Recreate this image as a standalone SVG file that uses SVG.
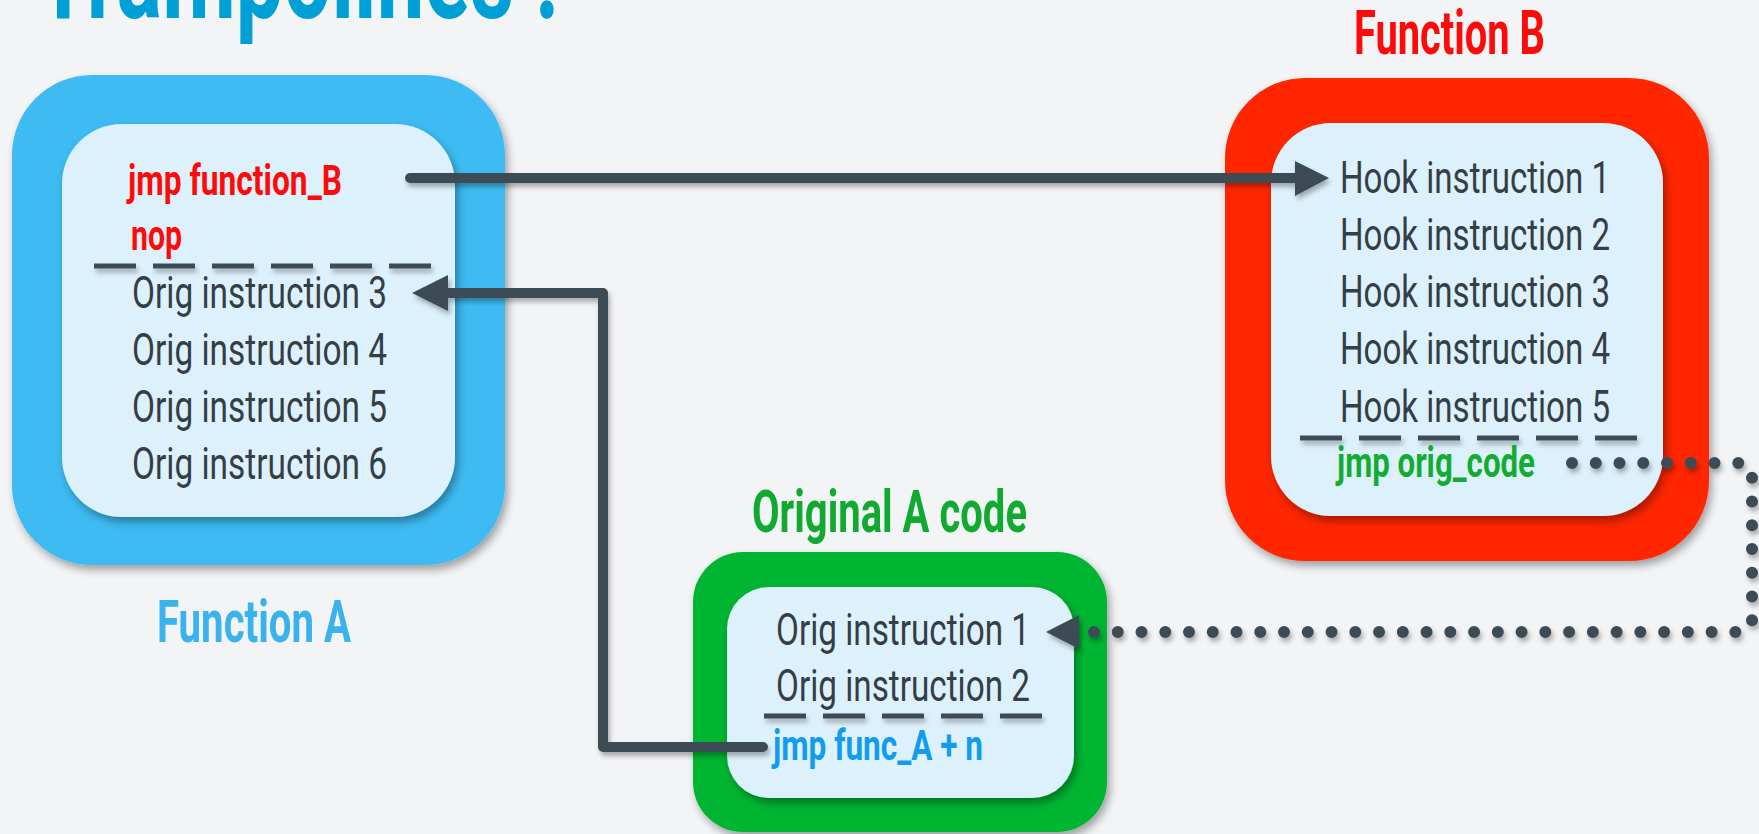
<svg xmlns="http://www.w3.org/2000/svg" width="1759" height="834" viewBox="0 0 1759 834">
<defs>
<filter id="sh" x="-10%" y="-10%" width="130%" height="130%">
<feDropShadow dx="3" dy="5" stdDeviation="4" flood-color="#000" flood-opacity="0.35"/>
</filter>
<filter id="lsh" filterUnits="userSpaceOnUse" x="0" y="0" width="1759" height="834">
<feDropShadow dx="2" dy="4" stdDeviation="2.5" flood-color="#000" flood-opacity="0.3"/>
</filter>
<style>
.inner{fill:#DDF1FC}
.t{font-family:Roboto,"Liberation Sans",sans-serif;font-size:44px;fill:#343E46}
.b{font-family:Roboto,"Liberation Sans",sans-serif;font-weight:700}
.sep{stroke:#3E4C55;stroke-width:5;stroke-dasharray:42 17;fill:none}
.con{stroke:#3E4C55;stroke-width:10;fill:none;stroke-linecap:round;stroke-linejoin:round}
.dot{stroke:#3E4C55;stroke-width:12;fill:none;stroke-linecap:round;stroke-dasharray:0 23.755}
.head{fill:#3E4C55}
</style>
</defs>
<rect width="1759" height="834" fill="#F3F4F6"/>
<text x="37" y="18" class="b" font-size="128" fill="#00A0D6" textLength="522" lengthAdjust="spacingAndGlyphs">Trampolines :</text>

<g id="functionA">
<rect x="12" y="75" width="493" height="490" rx="80" ry="80" fill="#3EBBF2" filter="url(#sh)"/>
<rect x="62" y="124" width="393" height="393" rx="60" ry="60" class="inner" filter="url(#sh)"/>
<text x="128" y="195" class="b" font-size="43" fill="#FF0A0A" textLength="214" lengthAdjust="spacingAndGlyphs">jmp function_B</text>
<text x="131" y="250" class="b" font-size="43" fill="#FF0A0A" textLength="51" lengthAdjust="spacingAndGlyphs">nop</text>
<line x1="94" y1="266" x2="431" y2="266" class="sep" filter="url(#lsh)"/>
<text x="132" y="308" class="t" textLength="255" lengthAdjust="spacingAndGlyphs">Orig instruction 3</text>
<text x="132" y="365" class="t" textLength="255" lengthAdjust="spacingAndGlyphs">Orig instruction 4</text>
<text x="132" y="422" class="t" textLength="255" lengthAdjust="spacingAndGlyphs">Orig instruction 5</text>
<text x="132" y="479" class="t" textLength="255" lengthAdjust="spacingAndGlyphs">Orig instruction 6</text>
<text x="157" y="642" class="b" font-size="60" fill="#3AB2EE" textLength="194" lengthAdjust="spacingAndGlyphs">Function A</text>
</g>

<g id="functionB">
<text x="1354" y="54" class="b" font-size="62" fill="#FF0A0A" textLength="191" lengthAdjust="spacingAndGlyphs">Function B</text>
<rect x="1225" y="78" width="484" height="483" rx="80" ry="80" fill="#FF2600" filter="url(#sh)"/>
<rect x="1271" y="123" width="392" height="393" rx="60" ry="60" class="inner" filter="url(#sh)"/>
<text x="1340" y="193" class="t" textLength="270" lengthAdjust="spacingAndGlyphs">Hook instruction 1</text>
<text x="1340" y="250" class="t" textLength="270" lengthAdjust="spacingAndGlyphs">Hook instruction 2</text>
<text x="1340" y="307" class="t" textLength="270" lengthAdjust="spacingAndGlyphs">Hook instruction 3</text>
<text x="1340" y="364" class="t" textLength="270" lengthAdjust="spacingAndGlyphs">Hook instruction 4</text>
<text x="1340" y="422" class="t" textLength="270" lengthAdjust="spacingAndGlyphs">Hook instruction 5</text>
<line x1="1300" y1="438" x2="1637" y2="438" class="sep" filter="url(#lsh)"/>
<text x="1337" y="477" class="b" font-size="43" fill="#13AC32" textLength="198" lengthAdjust="spacingAndGlyphs">jmp orig_code</text>
</g>

<g id="originalA">
<text x="752" y="532" class="b" font-size="60" fill="#10AA30" textLength="275" lengthAdjust="spacingAndGlyphs">Original A code</text>
<rect x="693" y="552" width="414" height="280" rx="50" ry="50" fill="#00B532" filter="url(#sh)"/>
<rect x="727" y="587" width="347" height="211" rx="42" ry="42" class="inner" filter="url(#sh)"/>
<text x="776" y="645" class="t" textLength="254" lengthAdjust="spacingAndGlyphs">Orig instruction 1</text>
<text x="776" y="701" class="t" textLength="254" lengthAdjust="spacingAndGlyphs">Orig instruction 2</text>
<line x1="764" y1="716" x2="1042" y2="716" class="sep" filter="url(#lsh)"/>
<text x="773" y="760" class="b" font-size="43" fill="#119CF0" textLength="210" lengthAdjust="spacingAndGlyphs">jmp func_A + n</text>
</g>

<g id="connectors">
<g filter="url(#lsh)">
<line x1="410" y1="178" x2="1298" y2="178" class="con"/>
<polygon points="1329,178 1295,161 1295,196" class="head"/>
</g>
<g filter="url(#lsh)">
<path d="M763 747 L603 747 L603 293 L445 293" class="con"/>
<polygon points="412,293 448,275 448,311" class="head"/>
</g>
<g filter="url(#lsh)">
<path d="M1572 463 L1740 463 Q1752 463 1752 475 L1752 620 Q1752 632 1740 632 L1093 632" class="dot"/>
<polygon points="1046,632 1079,615 1079,649" class="head"/>
</g>
</g>
</svg>
